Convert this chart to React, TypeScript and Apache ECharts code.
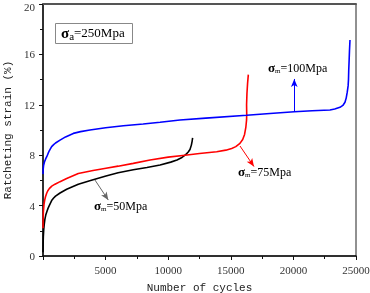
import React, { useEffect, useRef } from "react";
import * as echarts from "echarts";

// [cycles, ratcheting strain %]
const sigma50: [number, number][] = [
  [0, 0.3], [10, 1.0], [30, 1.6], [60, 2.1], [100, 2.5], [150, 2.9], [220, 3.25], [300, 3.5],
  [400, 3.78], [500, 4.0], [690, 4.4], [850, 4.6], [1000, 4.75], [1360, 5.0], [1890, 5.3],
  [2400, 5.52], [2820, 5.7], [3800, 6.0], [5030, 6.35], [6000, 6.6], [7210, 6.85], [8300, 7.03],
  [9350, 7.22], [10200, 7.45], [10700, 7.62], [11100, 7.82], [11400, 8.05], [11600, 8.25],
  [11740, 8.45], [11850, 8.8], [11910, 9.1], [11950, 9.37],
];
const sigma75: [number, number][] = [
  [0, 2.2], [10, 2.9], [30, 3.5], [80, 4.1], [140, 4.45], [200, 4.7], [300, 5.0], [400, 5.2],
  [500, 5.35], [700, 5.55], [960, 5.7], [1360, 5.9], [1890, 6.15], [2820, 6.55], [4000, 6.78],
  [5030, 6.96], [6000, 7.13], [7210, 7.35], [8550, 7.62], [10000, 7.85], [11340, 8.0],
  [12500, 8.13], [13870, 8.28], [14600, 8.4], [15070, 8.54], [15400, 8.68], [15730, 8.94],
  [15950, 9.25], [16100, 9.65], [16200, 10.2], [16260, 10.8], [16270, 11.3], [16260, 12.0],
  [16290, 12.9], [16340, 13.7], [16400, 14.4],
];
const sigma100: [number, number][] = [
  [0, 6.5], [15, 6.9], [50, 7.2], [100, 7.4], [150, 7.55], [220, 7.72], [300, 7.88], [400, 8.12],
  [500, 8.35], [690, 8.68], [850, 8.84], [1000, 8.97], [1360, 9.2], [1800, 9.45], [2420, 9.73],
  [3000, 9.87], [3750, 10.0], [5000, 10.18], [6420, 10.34], [8000, 10.48], [9350, 10.62],
  [10940, 10.79], [13000, 10.94], [16270, 11.17], [18130, 11.31], [20070, 11.45], [21500, 11.53],
  [22920, 11.59], [23300, 11.66], [23720, 11.8], [23950, 11.95], [24120, 12.2], [24220, 12.55],
  [24300, 13.0], [24370, 13.5], [24400, 14.0], [24420, 14.76], [24450, 15.5], [24480, 16.3],
  [24520, 17.14],
];

const xTicks = { min: 0, max: 25000, interval: 5000 };
const yTicks = { min: 0, max: 20, interval: 4 };

const xName = "Number of cycles";
const yName = "Ratcheting strain (%)";

export default function App() {
  const ref = useRef<HTMLDivElement>(null);
  useEffect(() => {
    if (!ref.current) return;
    const chart = echarts.init(ref.current, undefined, { renderer: "svg" });
    const tickFont = { fontFamily: "Liberation Serif", fontSize: 11, color: "#333" };
    const arrow = (from: number[], to: number[], color: string) => ({
      silent: true,
      symbol: ["none", "arrow"],
      symbolSize: [5, 8],
      label: { show: false },
      lineStyle: { color, width: 1, type: "solid" },
      data: [[{ coord: from }, { coord: to }]],
    });
    const subLabel = (sub: string, rest: string, x: number, y: number, size = 12) => ({
      type: "text",
      left: x,
      top: y,
      style: {
        text: `{s|σ}{b|${sub}}{n|${rest}}`,
        rich: {
          s: { fontFamily: "Liberation Serif", fontSize: size + 1, fill: "#000", fontWeight: "bold" },
          b: { fontFamily: "Liberation Serif", fontSize: 7, fill: "#000", verticalAlign: "bottom", padding: [6, 0, 0, 0] },
          n: { fontFamily: "Liberation Serif", fontSize: size, fill: "#000" },
        },
      },
    });
    chart.setOption({
      animation: false,
      grid: {
        left: 43, top: 4, right: 14, bottom: 37,
        containLabel: false, outerBoundsMode: "none",
        show: true, borderColor: "#222", borderWidth: 1,
      },
      xAxis: [
        {
          type: "value",
          ...xTicks,
          name: xName,
          nameLocation: "middle",
          nameGap: 26,
          nameTextStyle: { fontFamily: "Liberation Mono", fontSize: 11, color: "#222" },
          axisLine: { show: true, lineStyle: { color: "#111", width: 1.5 } },
          axisTick: { show: true, inside: false, length: 4, lineStyle: { color: "#111" } },
          minorTick: { show: true, splitNumber: 2, length: 3, lineStyle: { color: "#111" } },
          splitLine: { show: false },
          axisLabel: { ...tickFont, margin: 8, formatter: (v: number) => (v === 0 ? "" : String(v)) },
        },
        {
          type: "value",
          ...xTicks,
          position: "top",
          axisLine: { show: true, lineStyle: { color: "#555", width: 2 } },
          axisTick: { show: false },
          axisLabel: { show: false },
          splitLine: { show: false },
        },
      ],
      yAxis: {
        type: "value",
        ...yTicks,
        name: yName,
        nameLocation: "middle",
        nameGap: 27,
        nameTextStyle: { fontFamily: "Liberation Mono", fontSize: 11, color: "#222" },
        axisLine: { show: true, lineStyle: { color: "#111", width: 1.5 } },
        axisTick: { show: true, inside: false, length: 4, lineStyle: { color: "#111" } },
        minorTick: { show: true, splitNumber: 2, length: 3, lineStyle: { color: "#111" } },
        splitLine: { show: false },
        axisLabel: {
          ...tickFont,
          margin: 8,
          formatter: (v: number) => (v === yTicks.max ? `{t|${v}}` : String(v)),
          rich: { t: { ...tickFont, padding: [5, 0, 0, 0] } },
        },
      },
      series: [
        {
          type: "line",
          data: sigma50,
          showSymbol: false,
          lineStyle: { color: "#000", width: 1.6 },
          markLine: arrow([4150, 6.03], [5215, 4.44], "#666"),
        },
        {
          type: "line",
          data: sigma75,
          showSymbol: false,
          lineStyle: { color: "#ff0000", width: 1.6 },
          markLine: arrow([15735, 8.73], [16850, 7.1], "#ff0000"),
        },
        {
          type: "line",
          data: sigma100,
          showSymbol: false,
          lineStyle: { color: "#0000ff", width: 1.6 },
          markLine: arrow([20070, 11.5], [20070, 14.05], "#0000ff"),
        },
      ],
      graphic: [
        {
          type: "rect",
          shape: { x: 55.5, y: 23.5, width: 77, height: 20 },
          style: { fill: "#fff", stroke: "#888", lineWidth: 1 },
        },
        {
          type: "text",
          left: 61,
          top: 25,
          style: {
            text: "{s|σ}{b|a}{n|=250Mpa}",
            rich: {
              s: { fontFamily: "Liberation Serif", fontSize: 15, fill: "#000", fontWeight: "bold" },
              b: { fontFamily: "Liberation Serif", fontSize: 11, fill: "#000", verticalAlign: "bottom", padding: [6, 0, 0, 0] },
              n: { fontFamily: "Liberation Serif", fontSize: 13, fill: "#000" },
            },
          },
        },
        subLabel("m", "=100Mpa", 268, 61),
        subLabel("m", "=75Mpa", 238, 165),
        subLabel("m", "=50Mpa", 94, 199),
      ],
    });
    return () => chart.dispose();
  }, []);
  return <div ref={ref} style={{ position: "fixed", left: 0, top: 0, width: 370, height: 293 }} />;
}
